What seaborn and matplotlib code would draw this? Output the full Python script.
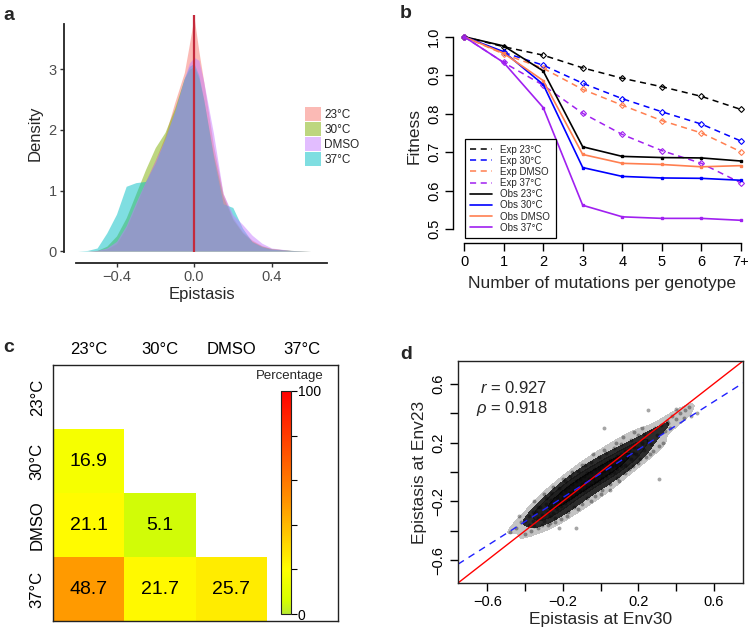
import numpy as np
import pandas as pd
import seaborn as sns
import matplotlib.pyplot as plt
from matplotlib.colors import LinearSegmentedColormap
from matplotlib.lines import Line2D
from matplotlib.patches import Patch

sns.set_theme(style='ticks')
plt.rcParams['font.family'] = ['Liberation Sans', 'DejaVu Sans']
plt.rcParams['mathtext.fontset'] = 'custom'
plt.rcParams['mathtext.rm'] = 'Liberation Sans'
plt.rcParams['mathtext.it'] = 'Liberation Sans:italic'
plt.rcParams['axes.edgecolor'] = 'black'
plt.rcParams['xtick.color'] = 'black'
plt.rcParams['ytick.color'] = 'black'

# ---- panel a: epistasis density
env_names = ['23°C', '30°C', 'DMSO', '37°C']
env_cols = ['#F8766D', '#7CAE00', '#C77CFF', '#00BFC4']
draw_order = [0, 1, 3, 2]  # DMSO is painted last in the original
eps_grid = [-0.6, -0.55, -0.5, -0.45, -0.4, -0.35, -0.3, -0.25, -0.2, -0.15, -0.1, -0.05, -0.025,
            0.0, 0.025, 0.05, 0.1, 0.15, 0.2, 0.25, 0.3, 0.35, 0.4, 0.5, 0.6, 0.65]
dens_23 = [0, 0, 0.01, 0.03, 0.12, 0.38, 0.75, 1.15, 1.5, 1.9, 2.45, 2.95, 3.4,
           3.87, 3.3, 2.8, 1.75, 0.95, 0.55, 0.32, 0.18, 0.09, 0.04, 0.01, 0, 0]
dens_30 = [0, 0, 0.01, 0.08, 0.25, 0.55, 0.95, 1.35, 1.71, 1.96, 2.36, 2.85, 3.0,
           3.05, 2.85, 2.5, 1.6, 0.9, 0.52, 0.3, 0.16, 0.08, 0.04, 0.01, 0, 0]
dens_dmso = [0, 0, 0.01, 0.05, 0.16, 0.42, 0.8, 1.15, 1.5, 1.85, 2.3, 2.85, 3.1,
             3.2, 3.15, 2.8, 1.95, 0.95, 0.6, 0.44, 0.26, 0.13, 0.05, 0.01, 0, 0]
dens_37 = [0, 0.01, 0.05, 0.3, 0.61, 1.07, 1.13, 1.15, 1.45, 1.85, 2.3, 2.85, 3.05,
           3.1, 2.9, 2.5, 1.55, 0.78, 0.72, 0.38, 0.15, 0.07, 0.03, 0.01, 0, 0]

# ---- panel b: fitness vs number of mutations
n_mut = [0, 1, 2, 3, 4, 5, 6, 7]
n_mut_labels = ['0', '1', '2', '3', '4', '5', '6', '7+']
exp_23 = [1.0, 0.974, 0.952, 0.919, 0.892, 0.870, 0.845, 0.811]
exp_30 = [1.0, 0.959, 0.926, 0.879, 0.839, 0.805, 0.773, 0.729]
exp_dmso = [1.0, 0.955, 0.918, 0.863, 0.822, 0.782, 0.750, 0.701]
exp_37 = [1.0, 0.933, 0.874, 0.801, 0.746, 0.704, 0.671, 0.620]
obs_23 = [1.0, 0.976, 0.911, 0.714, 0.689, 0.686, 0.685, 0.677]
obs_30 = [1.0, 0.961, 0.876, 0.660, 0.637, 0.633, 0.632, 0.627]
obs_dmso = [1.0, 0.957, 0.886, 0.694, 0.671, 0.668, 0.662, 0.665]
obs_37 = [1.0, 0.933, 0.816, 0.562, 0.532, 0.528, 0.528, 0.523]
b_cols = ['black', '#0000ff', '#ff7f50', '#a020f0']

# ---- panel c: percentage matrix (lower triangle)
pct_30 = [16.9]
pct_dmso = [21.1, 5.1]
pct_37 = [48.7, 21.7, 25.7]

# ---- panel d: epistasis at Env30 vs Env23 (points read from the cloud)
env30_x = [-0.36, -0.34, -0.33, -0.32, -0.31, -0.30, -0.29, -0.28, -0.27, -0.26, -0.26, -0.25, -0.24,
           -0.23, -0.23, -0.22, -0.21, -0.21, -0.20, -0.19, -0.19, -0.18, -0.17, -0.17, -0.16, -0.15,
           -0.15, -0.14, -0.13, -0.13, -0.12, -0.11, -0.11, -0.10, -0.09, -0.09, -0.08, -0.07, -0.07,
           -0.06, -0.05, -0.05, -0.04, -0.03, -0.03, -0.02, -0.01, -0.01, 0.00, 0.01, 0.01, 0.02, 0.03,
           0.03, 0.04, 0.05, 0.05, 0.06, 0.07, 0.07, 0.08, 0.09, 0.09, 0.10, 0.11, 0.11, 0.12, 0.13,
           0.13, 0.14, 0.15, 0.16, 0.17, 0.18, 0.19, 0.20, 0.22, 0.23, 0.25, 0.27,
           -0.45, -0.42, -0.40, -0.38, -0.37, -0.35, -0.33, -0.30, -0.28, -0.25, -0.24, -0.20, -0.18,
           -0.22, -0.15, -0.12, -0.10, -0.05, -0.04, 0.00, 0.02, 0.05, 0.08, 0.10, 0.12, 0.15, 0.18,
           0.20, 0.22, 0.24, 0.27, 0.28, 0.30, 0.32, 0.33, 0.35, 0.37, 0.38, 0.42, 0.45, 0.48, 0.51,
           0.02, 0.25, 0.31, -0.13, 0.40,
           -0.40, -0.38, -0.36, -0.35, -0.33, -0.31, -0.29, -0.27, -0.26, -0.24, -0.22, -0.21, -0.19,
           -0.17, -0.16, -0.14, -0.12, -0.10, -0.08, -0.07, -0.05, -0.03, -0.01, 0.01, 0.03, 0.05,
           0.07, 0.09, 0.11, 0.13, 0.16, 0.17, 0.20, 0.21, 0.23, 0.26, 0.29, 0.31, 0.34, 0.36, 0.40,
           0.44, -0.48, -0.43, 0.47]
env23_y = [-0.33, -0.27, -0.31, -0.24, -0.29, -0.33, -0.22, -0.27, -0.30, -0.19, -0.24, -0.28, -0.21,
           -0.17, -0.25, -0.20, -0.14, -0.23, -0.18, -0.12, -0.21, -0.16, -0.10, -0.19, -0.14, -0.08,
           -0.17, -0.12, -0.06, -0.15, -0.10, -0.05, -0.13, -0.08, -0.03, -0.12, -0.07, -0.01, -0.10,
           -0.05, 0.00, -0.09, -0.04, 0.02, -0.07, -0.02, 0.03, -0.06, -0.01, 0.05, -0.04, 0.01, 0.06,
           -0.03, 0.02, 0.08, -0.01, 0.04, 0.09, 0.00, 0.05, 0.11, 0.02, 0.07, 0.12, 0.04, 0.08, 0.14,
           0.05, 0.10, 0.15, 0.09, 0.13, 0.17, 0.12, 0.16, 0.20, 0.15, 0.21, 0.19,
           -0.38, -0.34, -0.42, -0.30, -0.40, -0.20, -0.38, -0.15, -0.36, -0.10, -0.34, -0.05, -0.30,
           -0.38, 0.00, -0.25, 0.05, -0.20, 0.12, -0.15, 0.15, -0.12, 0.20, -0.06, 0.24, 0.02, 0.27,
           0.06, 0.30, 0.10, 0.28, 0.14, 0.25, 0.32, 0.20, 0.35, 0.30, 0.38, 0.40, 0.42, 0.38, 0.40,
           0.30, 0.42, -0.05, -0.38, 0.43,
           -0.33, -0.36, -0.27, -0.37, -0.24, -0.36, -0.18, -0.35, -0.14, -0.31, -0.11, -0.32, -0.06,
           -0.27, -0.03, -0.24, 0.01, -0.22, 0.05, -0.18, 0.07, -0.16, 0.10, -0.12, 0.13, -0.08,
           0.16, -0.04, 0.19, -0.01, 0.22, 0.04, 0.25, 0.09, 0.26, 0.12, 0.30, 0.18, 0.28, 0.33, 0.36,
           0.37, -0.41, -0.30, 0.44]
fit_slope = 0.816
fit_icpt = -0.011
r_text = '$r$ = 0.927'
rho_text = r'$\rho$ = 0.918'

W, H = 750, 639
fig = plt.figure(figsize=(W / 100, H / 100), dpi=100)


def box(x0, y0, x1, y1):
    return [x0 / W, 1 - y1 / H, (x1 - x0) / W, (y1 - y0) / H]


# ================= panel a
ax = fig.add_axes(box(76, 15, 327, 252))
dens_all = [dens_23, dens_30, dens_dmso, dens_37]
for i in draw_order:
    ax.fill_between(eps_grid, dens_all[i], color=env_cols[i], alpha=0.5, lw=0)
ax.axvline(0, color='#c42a3c', lw=1.6)
ax.set_xlim(-0.609, 0.686)
ax.set_ylim(-0.016, 3.9)
ax.set_xticks([-0.4, 0.0, 0.4])
ax.set_xticklabels(['\u22120.4', '0.0', '0.4'])
ax.set_yticks([0, 1, 2, 3])
sns.despine(ax=ax)
ax.spines['left'].set_position(('outward', 9))
ax.spines['left'].set_bounds(-0.016, 3.75)
ax.spines['bottom'].set_position(('outward', 8))
for s in ['left', 'bottom']:
    ax.spines[s].set_color('#222222')
    ax.spines[s].set_linewidth(1.3)
ax.tick_params(length=3, width=1, colors='#333333', labelcolor='#4d4d4d', labelsize=10.5, pad=2)
ax.set_xlabel('Epistasis', fontsize=12, labelpad=2)
ax.set_ylabel('Density', fontsize=12, labelpad=4)
handles = [Patch(facecolor=c, alpha=0.5, edgecolor='none') for c in env_cols]
ax.legend(handles, env_names, loc='upper left', bbox_to_anchor=(0.895, 0.63), frameon=False,
          fontsize=8.5, handlelength=1.3, handleheight=1.35, labelspacing=0.12,
          handletextpad=0.3, borderaxespad=0)

# ================= panel b
ax = fig.add_axes(box(453, 29, 750, 243))
exp_all = [exp_23, exp_30, exp_dmso, exp_37]
obs_all = [obs_23, obs_30, obs_dmso, obs_37]
for col, ys in zip(b_cols, exp_all):
    ax.plot(n_mut, ys, color=col, lw=1.1, dashes=(4, 3), marker='D', ms=3.0,
            mfc='none', mew=0.8)
for col, ys in zip(b_cols, obs_all):
    ax.plot(n_mut, ys, color=col, lw=1.2, marker='s', ms=2.0)
ax.set_xlim(-0.28, 7.23)
ax.set_ylim(0.464, 1.02)
ax.set_xticks(n_mut)
ax.set_xticklabels(n_mut_labels)
ax.set_yticks([0.5, 0.6, 0.7, 0.8, 0.9, 1.0])
ax.set_yticklabels(['0.5', '0.6', '0.7', '0.8', '0.9', '1.0'], rotation=90, va='center')
sns.despine(ax=ax)
ax.spines['left'].set_bounds(0.5, 1.0)
ax.spines['bottom'].set_bounds(0, 7)
for s in ['left', 'bottom']:
    ax.spines[s].set_linewidth(1.0)
ax.tick_params(length=5.5, width=1, labelsize=10.5, pad=3)
ax.set_xlabel('Number of mutations per genotype', fontsize=12.5, labelpad=5)
ax.set_ylabel('Fitness', fontsize=12.5, labelpad=4)
leg_h = [Line2D([], [], color=c, lw=1.1, dashes=(4, 3)) for c in b_cols] + \
        [Line2D([], [], color=c, lw=1.2) for c in b_cols]
leg_l = ['Exp ' + n for n in env_names] + ['Obs ' + n for n in env_names]
leg = ax.legend(leg_h, leg_l, loc='lower left', bbox_to_anchor=(0.04, 0.023), borderaxespad=0,
                fontsize=7, fancybox=False, edgecolor='black', framealpha=1,
                handlelength=2.2, labelspacing=0.12, borderpad=0.55, handletextpad=0.9)
leg.get_frame().set_linewidth(0.9)

# ================= panel c
ax = fig.add_axes(box(53, 365, 338, 621))
mat = np.full((4, 4), np.nan)
mat[1, :1] = pct_30
mat[2, :2] = pct_dmso
mat[3, :3] = pct_37
mat = pd.DataFrame(mat, index=env_names, columns=env_names)
cmap = LinearSegmentedColormap.from_list(
    'pct', [(0, '#b8ea30'), (0.06, '#d6ff00'), (0.2, '#ffff00'), (0.5, '#ff9500'), (1.0, '#ff0000')])
sns.heatmap(mat, ax=ax, cmap=cmap, vmin=0, vmax=100, cbar=False, annot=True, fmt='.1f',
            annot_kws=dict(size=14, color='black'))
ax.xaxis.tick_top()
ax.set_xticklabels(env_names, fontsize=12)
ax.set_yticklabels(env_names, rotation=90, va='center', fontsize=12)
ax.tick_params(length=0, pad=6)
ax.set_xlabel('')
ax.set_ylabel('')
for s in ax.spines.values():
    s.set_visible(True)
    s.set_color('#222222')
    s.set_linewidth(1.0)
cax = fig.add_axes(box(281, 391, 291, 614))
cb = fig.colorbar(ax.collections[0], cax=cax, ticks=[0, 20, 40, 60, 80, 100])
cb.ax.set_yticklabels(['0', '', '', '', '', '100'])
cb.ax.tick_params(length=4, width=0.8, labelsize=10, pad=1)
cb.outline.set_linewidth(0.8)
cb.outline.set_edgecolor('#222222')
fig.text(290 / W, 1 - 376 / H, 'Percentage', ha='center', va='center', fontsize=9.5)

# ================= panel d
ax = fig.add_axes(box(458, 361, 743, 583))
# light halo, dark core, then the points on top for grain
sns.kdeplot(x=env30_x, y=env23_y, ax=ax, fill=True, color='#8a8a8a', levels=[0.15, 1],
            bw_adjust=0.8, alpha=0.5)
kcmap = LinearSegmentedColormap.from_list('kd', ['#2a2a2a', '#000000'])
sns.kdeplot(x=env30_x, y=env23_y, ax=ax, fill=True, cmap=kcmap, levels=4, thresh=0.42,
            bw_adjust=1.1, alpha=0.95)
sns.scatterplot(x=env30_x, y=env23_y, ax=ax, color='black', alpha=0.35, s=8, linewidth=0)
lims = np.array([-0.755, 0.755])
ax.plot(lims, lims, color='red', lw=1.0)
ax.plot(lims, fit_slope * lims + fit_icpt, color='#2020ff', lw=1.0, dashes=(5, 4))
ax.set_xlim(-0.755, 0.755)
ax.set_ylim(-0.755, 0.755)
tks = [-0.6, -0.4, -0.2, 0.0, 0.2, 0.4, 0.6]
tlab = ['\u22120.6', '', '\u22120.2', '', '0.2', '', '0.6']
ax.set_xticks(tks)
ax.set_xticklabels(tlab)
ax.set_yticks(tks)
ax.set_yticklabels(tlab, rotation=90, va='center')
ax.tick_params(length=6, width=1, labelsize=10.5, pad=3)
for s in ax.spines.values():
    s.set_color('#222222')
    s.set_linewidth(1.0)
ax.set_xlabel('Epistasis at Env30', fontsize=12.5, labelpad=2)
ax.set_ylabel('Epistasis at Env23', fontsize=12.5, labelpad=3)
ax.text(-0.281, 0.573, r_text, ha='right', va='center', fontsize=12)
ax.text(-0.281, 0.43, rho_text, ha='right', va='center', fontsize=12)

# panel letters
for lab, x, y in [('a', 3, 20), ('b', 400, 18), ('c', 3, 352), ('d', 400, 359)]:
    fig.text(x / W, 1 - y / H, lab, fontsize=14, fontweight='bold', va='baseline')

fig.savefig('out.png', dpi=100)
